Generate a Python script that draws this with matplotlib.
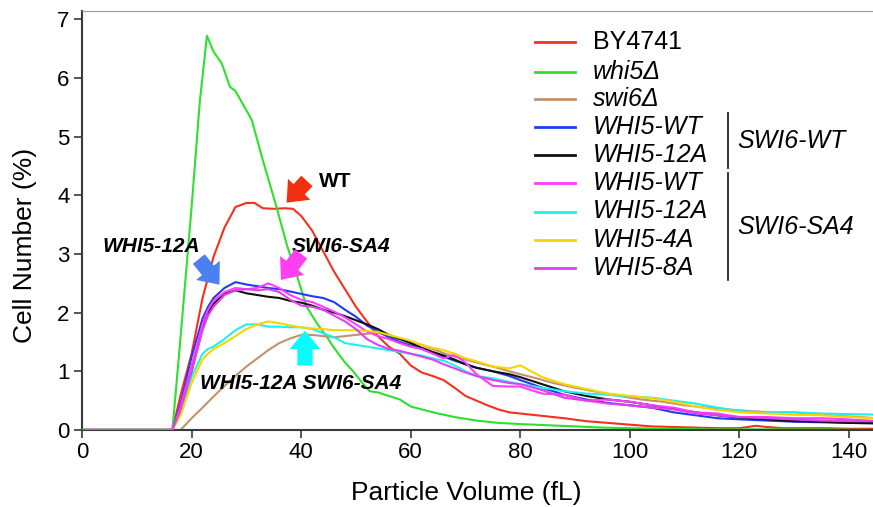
import matplotlib
matplotlib.use('Agg')
import matplotlib.pyplot as plt
from matplotlib.lines import Line2D

# particle volume grid (fL) shared by the strain curves
vol = [0, 16.5, 18, 20, 22, 23, 24, 26, 28, 30, 32, 34, 36, 38, 40, 42, 44, 46, 48, 50,
       52, 54, 56, 58, 60, 62, 64, 66, 68, 70, 72, 75, 78, 80, 84, 88, 92, 96, 100, 104,
       108, 112, 116, 120, 125, 130, 135, 140, 145]

by4741_x = [0, 16.5, 18, 20, 22, 24, 26, 28, 30, 31.5, 33, 35, 37, 38.5, 40, 42, 44, 46, 48,
            50, 52, 54, 56, 58, 60, 62, 64, 66, 68, 70, 72, 74, 76, 78, 80, 84, 88, 92, 96,
            100, 104, 108, 112, 116, 120, 123, 125, 128, 132, 136, 140, 145]
by4741_y = [0, 0, 0.6, 1.3, 2.25, 2.95, 3.45, 3.8, 3.87, 3.87, 3.78, 3.77, 3.78, 3.77, 3.65,
            3.4, 3.05, 2.7, 2.4, 2.1, 1.85, 1.6, 1.42, 1.3, 1.1, 0.98, 0.92, 0.85, 0.72, 0.58,
            0.5, 0.42, 0.35, 0.3, 0.28, 0.24, 0.2, 0.15, 0.12, 0.09, 0.06, 0.05, 0.04, 0.03,
            0.03, 0.07, 0.05, 0.03, 0.03, 0.03, 0.02, 0.02]

whi5_x = [0, 16.5, 18, 20, 21.5, 22.8, 24, 25.5, 27, 28, 30, 31, 33, 35.5, 37.5, 39, 41, 43,
          44.6, 46, 48, 49.5, 51, 52.5, 54, 56, 58, 60, 62, 65, 68, 72, 76, 80, 85, 90, 95,
          100, 107, 115, 125, 135, 145]
whi5_y = [0, 0, 1.6, 3.8, 5.6, 6.72, 6.45, 6.25, 5.85, 5.78, 5.45, 5.28, 4.6, 3.8, 3.12, 2.7,
          2.1, 1.8, 1.6, 1.4, 1.15, 1.0, 0.82, 0.66, 0.64, 0.58, 0.52, 0.4, 0.35, 0.28, 0.22,
          0.16, 0.12, 0.1, 0.08, 0.06, 0.04, 0.03, 0.02, 0.01, 0.01, 0.01, 0.0]

swi6_x = [0, 18, 20, 22, 24, 26, 28, 30, 32, 34, 36, 38, 40, 42, 44, 46, 48, 50, 52, 54, 56,
          58, 60, 62, 64, 66, 68, 70, 72, 75, 78, 80, 83, 86, 90, 94, 98, 102, 106, 110, 114,
          118, 122, 126, 130, 134, 138, 142, 145]
swi6_y = [0, 0, 0.2, 0.38, 0.57, 0.75, 0.92, 1.08, 1.22, 1.36, 1.48, 1.56, 1.62, 1.62, 1.6,
          1.58, 1.6, 1.62, 1.64, 1.66, 1.6, 1.55, 1.5, 1.45, 1.38, 1.31, 1.25, 1.2, 1.15, 1.08,
          1.0, 0.95, 0.88, 0.8, 0.72, 0.65, 0.58, 0.52, 0.48, 0.42, 0.38, 0.35, 0.32, 0.3, 0.3,
          0.27, 0.24, 0.22, 0.2]

wt_wt = [0, 0, 0.45, 1.25, 1.9, 2.1, 2.25, 2.42, 2.52, 2.48, 2.45, 2.42, 2.4, 2.36, 2.32, 2.28,
         2.25, 2.18, 2.05, 1.93, 1.78, 1.68, 1.58, 1.5, 1.44, 1.38, 1.32, 1.25, 1.18, 1.12, 1.06,
         1.0, 0.92, 0.85, 0.72, 0.6, 0.52, 0.46, 0.42, 0.38, 0.3, 0.25, 0.2, 0.18, 0.16, 0.14,
         0.13, 0.12, 0.12]
a12_wt = [0, 0, 0.35, 1.0, 1.75, 2.0, 2.15, 2.32, 2.38, 2.33, 2.3, 2.27, 2.25, 2.2, 2.17, 2.12,
          2.05, 2.0, 1.94, 1.87, 1.8, 1.72, 1.62, 1.55, 1.48, 1.4, 1.33, 1.27, 1.2, 1.12, 1.06,
          1.0, 0.95, 0.9, 0.78, 0.66, 0.58, 0.52, 0.48, 0.42, 0.36, 0.3, 0.25, 0.21, 0.18, 0.15,
          0.14, 0.12, 0.11]
wt_sa4 = [0, 0, 0.4, 1.1, 1.8, 2.05, 2.2, 2.35, 2.42, 2.4, 2.42, 2.5, 2.42, 2.3, 2.22, 2.18,
          2.1, 2.02, 1.92, 1.8, 1.68, 1.6, 1.55, 1.48, 1.42, 1.38, 1.3, 1.22, 1.28, 1.15, 0.95,
          0.75, 0.74, 0.74, 0.62, 0.6, 0.5, 0.52, 0.48, 0.42, 0.38, 0.3, 0.28, 0.22, 0.22, 0.2,
          0.2, 0.18, 0.15]
a12_sa4 = [0, 0, 0.3, 0.9, 1.3, 1.38, 1.42, 1.55, 1.7, 1.8, 1.8, 1.76, 1.76, 1.75, 1.75, 1.72,
           1.65, 1.58, 1.48, 1.45, 1.42, 1.39, 1.36, 1.33, 1.3, 1.27, 1.22, 1.18, 1.1, 1.0, 0.92,
           0.88, 0.82, 0.78, 0.72, 0.66, 0.62, 0.6, 0.57, 0.55, 0.5, 0.45, 0.38, 0.32, 0.3, 0.3,
           0.28, 0.27, 0.26]
a4_sa4 = [0, 0, 0.25, 0.8, 1.2, 1.3, 1.38, 1.48, 1.6, 1.72, 1.8, 1.85, 1.82, 1.78, 1.75, 1.73,
          1.72, 1.7, 1.7, 1.7, 1.69, 1.67, 1.62, 1.57, 1.52, 1.45, 1.4, 1.36, 1.3, 1.22, 1.17,
          1.08, 1.05, 1.1, 0.9, 0.78, 0.7, 0.62, 0.58, 0.54, 0.48, 0.4, 0.34, 0.3, 0.28, 0.26,
          0.25, 0.22, 0.2]
a8_sa4 = [0, 0, 0.35, 1.0, 1.7, 1.95, 2.1, 2.3, 2.38, 2.4, 2.38, 2.4, 2.35, 2.22, 2.12, 2.1,
          2.05, 1.95, 1.85, 1.72, 1.55, 1.45, 1.38, 1.35, 1.3, 1.25, 1.2, 1.12, 1.05, 0.98, 0.92,
          0.85, 0.8, 0.78, 0.68, 0.55, 0.5, 0.45, 0.42, 0.38, 0.35, 0.28, 0.25, 0.22, 0.2, 0.18,
          0.16, 0.15, 0.15]

legend_labels = ['BY4741', 'whi5Δ', 'swi6Δ', 'WHI5-WT', 'WHI5-12A', 'WHI5-WT', 'WHI5-12A',
                 'WHI5-4A', 'WHI5-8A']
colors = ['#f5301e', '#2ee02e', '#c0926e', '#1f3cf0', '#111111', '#ff3cff', '#22eef0',
          '#f8d400', '#e040f0']

tick_font = ['Liberation Sans Narrow', 'Liberation Sans']
plt.rcParams['font.family'] = ['Liberation Sans', 'DejaVu Sans']

fig = plt.figure(figsize=(8.73, 5.07), dpi=100)
ax = fig.add_axes([0.094, 0.152, 0.906, 0.826])

series = [(by4741_x, by4741_y), (whi5_x, whi5_y), (swi6_x, swi6_y), (vol, wt_wt),
          (vol, a12_wt), (vol, wt_sa4), (vol, a12_sa4), (vol, a4_sa4), (vol, a8_sa4)]
order = [2, 7, 6, 8, 5, 4, 3, 1, 0]
for i in order:
    xs, ys = series[i]
    ax.plot(xs, ys, color=colors[i], lw=1.5, zorder=2 + i * 0.1)

ax.set_xlim(0, 144.4)
ax.set_ylim(0, 7.14)
ax.set_xticks(range(0, 141, 20))
ax.set_yticks(range(0, 8))
for sp in ['left', 'bottom']:
    ax.spines[sp].set_color('#3a3a3a')
    ax.spines[sp].set_linewidth(1.5)
ax.spines['top'].set_color('#9a9a9a')
ax.spines['right'].set_visible(False)
ax.tick_params(length=6, width=1.2, color='#3a3a3a', labelsize=16, pad=3)
for lab in ax.get_xticklabels() + ax.get_yticklabels():
    lab.set_family(tick_font)

fig.text(25 / 873, 1 - 245 / 507, 'Cell Number (%)', rotation=90, ha='center', va='center',
         fontsize=19)
fig.text(466 / 873, 1 - 493 / 507, 'Particle Volume (fL)', ha='center', va='center',
         fontsize=19)

# arrows + labels inside the plot
def arrow(tail, head, color):
    ax.annotate('', xy=head, xytext=tail,
                arrowprops=dict(arrowstyle='simple,head_length=0.6,head_width=1.0,tail_width=0.5',
                                color=color, lw=0, mutation_scale=22), zorder=5)

arrow((41.4, 4.28), (37.0, 3.84), '#f03010')
arrow((21.0, 2.95), (25.4, 2.44), '#4a80f0')
arrow((40.3, 3.04), (36.0, 2.52), '#ff40f0')
arrow((40.7, 1.05), (40.7, 1.74), '#00ffff')

ax.text(43.2, 4.24, 'WT', fontsize=15, weight='bold', va='center')
ax.text(12.6, 3.12, 'WHI5-12A', fontsize=15, weight='bold', style='italic', ha='center',
        va='center')
ax.text(47.3, 3.12, 'SWI6-SA4', fontsize=15, weight='bold', style='italic', ha='center',
        va='center')
ax.text(39.9, 0.8, 'WHI5-12A SWI6-SA4', fontsize=15, weight='bold', style='italic',
        ha='center', va='center')

# custom legend drawn in figure pixels
W, H = 873, 507
rows = [42, 72, 99, 127, 155, 183, 211.5, 239.5, 268]
for k, (lab, c, ry) in enumerate(zip(legend_labels, colors, rows)):
    fig.add_artist(Line2D([535 / W, 575 / W], [1 - ry / H, 1 - ry / H], color=c, lw=2))
    fig.text(593 / W, 1 - ry / H, lab, fontsize=18, va='center', ha='left',
             style='normal' if k == 0 else 'italic')
fig.add_artist(Line2D([728 / W, 728 / W], [1 - 113 / H, 1 - 168 / H], color='#222222', lw=1.3))
fig.add_artist(Line2D([728 / W, 728 / W], [1 - 173 / H, 1 - 280 / H], color='#222222', lw=1.3))
fig.text(737 / W, 1 - 141 / H, 'SWI6-WT', fontsize=18, style='italic', va='center')
fig.text(737 / W, 1 - 227 / H, 'SWI6-SA4', fontsize=18, style='italic', va='center')

fig.savefig('out.png', dpi=100)
